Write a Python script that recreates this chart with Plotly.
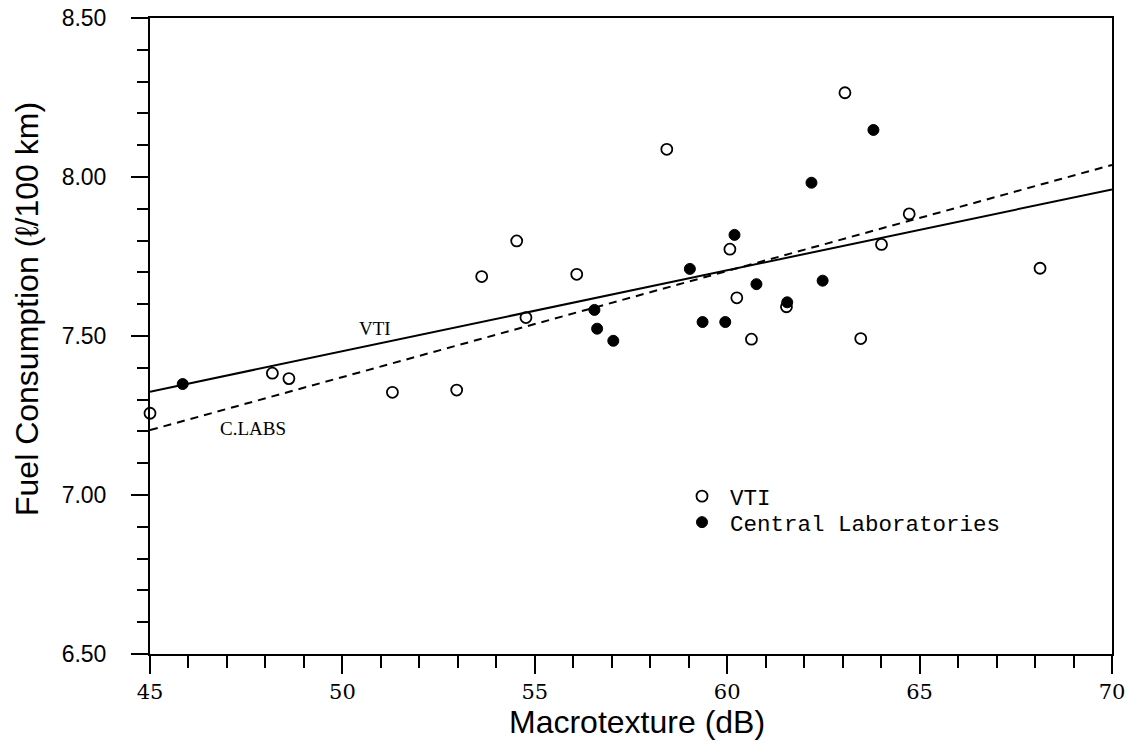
import plotly.graph_objects as go

# ---- data ----
vti_x = [45.0, 48.18, 48.61, 51.30, 52.97, 53.62, 54.53, 54.77, 56.09, 58.43,
         60.07, 60.25, 60.63, 61.54, 63.06, 63.47, 64.01, 64.73, 68.13]
vti_y = [7.257, 7.383, 7.366, 7.323, 7.330, 7.687, 7.799, 7.558, 7.694, 8.087,
         7.773, 7.620, 7.490, 7.592, 8.265, 7.492, 7.788, 7.884, 7.713]

cl_x = [45.85, 56.55, 56.62, 57.04, 59.03, 59.36, 59.95, 60.19, 60.76, 61.56,
        62.19, 62.48, 63.80]
cl_y = [7.349, 7.582, 7.523, 7.485, 7.711, 7.544, 7.544, 7.818, 7.663, 7.606,
        7.982, 7.674, 8.148]

fit_x = [45, 70]
vti_fit_y = [7.325, 7.961]
cl_fit_y = [7.204, 8.038]

x_ticks = [45, 50, 55, 60, 65, 70]
y_ticks = [6.5, 7.0, 7.5, 8.0, 8.5]

# plot-area pixel geometry (used for paper-coordinate placement of titles/legend)
L, R, T, B = 150, 1112, 18, 654
W_ = R - L
H_ = B - T


def px(xp):
    return (xp - L) / W_


def py(yp):
    return (B - yp) / H_


fig = go.Figure()

fig.add_trace(go.Scatter(x=fit_x, y=vti_fit_y, mode="lines",
                         line=dict(color="black", width=2), showlegend=False,
                         hoverinfo="skip"))
fig.add_trace(go.Scatter(x=fit_x, y=cl_fit_y, mode="lines",
                         line=dict(color="black", width=2, dash="8px,6px"),
                         showlegend=False, hoverinfo="skip"))

fig.add_trace(go.Scatter(x=vti_x, y=vti_y, mode="markers", name="VTI",
                         cliponaxis=False, legend="legend",
                         marker=dict(symbol="circle-open", size=11, color="black",
                                     line=dict(width=1.8, color="black"))))
fig.add_trace(go.Scatter(x=cl_x, y=cl_y, mode="markers", name="Central Laboratories",
                         cliponaxis=False, legend="legend2",
                         marker=dict(symbol="circle", size=11, color="black",
                                     line=dict(width=1, color="black"))))

fig.add_annotation(x=50.85, y=7.525, text="VTI", showarrow=False,
                   font=dict(family="Liberation Serif", size=19, color="black"))
fig.add_annotation(x=47.68, y=7.208, text="C.LABS", showarrow=False,
                   font=dict(family="Liberation Serif", size=19, color="black"))

# axis titles
fig.add_annotation(xref="paper", yref="paper", x=px(637), y=py(722),
                   text="Macrotexture (dB)", showarrow=False, xanchor="center", yanchor="middle",
                   font=dict(family="Liberation Sans", size=32, color="black"))
fig.add_annotation(xref="paper", yref="paper", x=px(27), y=py(309),
                   text="Fuel Consumption (ℓ/100 km)", showarrow=False, textangle=-90,
                   xanchor="center", yanchor="middle",
                   font=dict(family="Liberation Sans", size=32, color="black"))

fig.update_xaxes(range=[45, 70], tickvals=x_ticks, ticktext=[str(v) for v in x_ticks],
                 ticks="outside", ticklen=18, tickwidth=2, tickcolor="black",
                 minor=dict(dtick=1, ticks="outside", ticklen=12, tickwidth=1.5, tickcolor="black"),
                 showline=True, linecolor="black", linewidth=2, mirror=True,
                 showgrid=False, zeroline=False, ticklabelstandoff=0, automargin=False,
                 tickfont=dict(family="DejaVu Serif", size=21, color="black"))
fig.update_yaxes(range=[6.5, 8.5], tickvals=y_ticks, ticktext=[f"{v:.2f}" for v in y_ticks],
                 ticks="outside", ticklen=17, tickwidth=2, tickcolor="black",
                 minor=dict(dtick=0.1, ticks="outside", ticklen=11, tickwidth=1.5, tickcolor="black"),
                 showline=True, linecolor="black", linewidth=2, mirror=True,
                 showgrid=False, zeroline=False, ticklabelstandoff=20, automargin=False,
                 tickfont=dict(family="Liberation Sans", size=23, color="black"))

leg_common = dict(xanchor="left", yanchor="top", bgcolor="rgba(0,0,0,0)",
                  itemwidth=46, font=dict(family="Liberation Mono", size=22.5, color="black"))

fig.update_layout(
    width=1135, height=743,
    margin=dict(l=L, r=1135 - R, t=T, b=743 - B, autoexpand=False),
    paper_bgcolor="white", plot_bgcolor="white",
    showlegend=True,
    legend=dict(x=px(674), y=py(475), **leg_common),
    legend2=dict(x=px(674), y=py(501), **leg_common),
)

fig.write_html("out.html")
